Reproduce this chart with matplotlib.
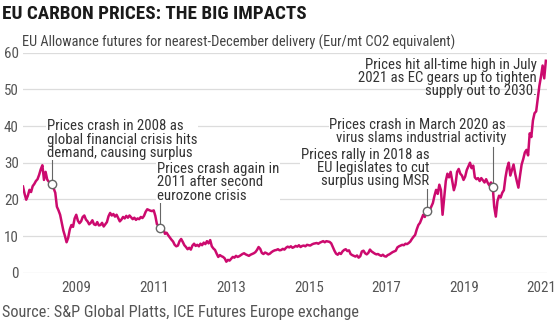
import numpy as np
import matplotlib
matplotlib.use("Agg")
import matplotlib.pyplot as plt

# EUA nearest-December futures, two readings per month (EUR/t CO2e)
price_2008 = [23.5, 21.5, 19.9, 21.0, 22.6, 22.0, 23.6, 24.2, 25.0, 25.5, 26.7, 28.2,
              29.3, 25.3, 27.5, 25.4, 24.8, 24.3, 24.6, 23.0, 21.8, 18.0, 17.0, 15.8]
price_2009 = [13.7, 11.5, 10.0, 8.3, 9.5, 11.8, 13.0, 12.5, 14.8, 15.8, 14.2, 13.5,
              14.0, 15.2, 15.6, 14.5, 14.0, 13.2, 13.6, 14.3, 13.2, 13.0, 13.8, 12.9]
price_2010 = [13.0, 13.6, 12.6, 13.2, 13.8, 15.4, 16.3, 15.6, 16.0, 15.3, 15.8, 14.9,
              14.0, 14.5, 15.2, 14.8, 15.5, 15.0, 15.6, 15.1, 14.6, 15.0, 14.4, 14.8]
price_2011 = [14.6, 15.2, 14.9, 15.5, 16.6, 17.3, 17.1, 16.9, 16.8, 17.0, 15.5, 13.2,
              12.9, 12.0, 11.5, 11.9, 10.6, 10.9, 10.2, 9.6, 9.0, 8.5, 7.6, 7.2]
price_2012 = [7.4, 8.6, 9.2, 8.4, 7.5, 7.0, 6.4, 6.8, 6.3, 7.4, 7.9, 7.3,
              7.6, 7.2, 7.9, 7.5, 8.2, 7.8, 8.6, 8.0, 8.9, 7.2, 6.6, 6.2]
price_2013 = [5.2, 4.3, 4.8, 4.5, 4.3, 3.9, 3.0, 3.5, 3.3, 3.8, 4.3, 4.1,
              4.6, 4.3, 4.5, 4.8, 5.1, 5.3, 5.0, 4.8, 4.6, 4.9, 5.1, 5.3]
price_2014 = [5.6, 6.2, 7.0, 6.5, 5.4, 5.1, 5.5, 5.3, 5.0, 5.2, 5.6, 5.9,
              6.1, 6.2, 6.4, 6.1, 6.2, 6.5, 6.3, 6.8, 7.1, 6.9, 7.2, 6.8]
price_2015 = [7.0, 7.3, 7.1, 7.5, 7.0, 7.3, 7.4, 7.2, 7.6, 7.5, 7.4, 7.7,
              7.9, 8.0, 8.1, 7.9, 8.2, 8.4, 8.6, 8.3, 8.6, 8.5, 8.4, 8.0]
price_2016 = [7.0, 6.0, 5.2, 4.9, 5.4, 5.1, 5.8, 6.2, 6.4, 5.9, 6.1, 5.1,
              4.8, 4.6, 4.4, 4.7, 4.1, 4.5, 5.8, 6.0, 5.3, 5.0, 5.4, 6.3]
price_2017 = [5.8, 5.5, 5.2, 5.0, 5.1, 4.8, 4.6, 4.9, 4.5, 4.4, 4.8, 5.0,
              5.3, 5.6, 5.8, 6.0, 6.9, 7.2, 7.4, 7.6, 7.5, 7.9, 7.8, 8.1]
price_2018 = [8.5, 9.2, 9.8, 10.3, 11.8, 13.0, 13.6, 14.7, 15.8, 15.2, 16.6, 17.2,
              17.0, 18.0, 19.0, 21.0, 22.6, 21.5, 24.0, 22.5, 15.8, 20.5, 25.0, 27.0]
price_2019 = [26.0, 27.5, 25.0, 22.5, 24.0, 27.5, 28.3, 27.0, 26.5, 25.3, 26.2, 28.0,
              29.0, 30.0, 28.5, 29.2, 26.0, 25.5, 25.8, 25.0, 25.8, 25.2, 24.6, 25.5]
price_2020 = [24.5, 23.8, 24.6, 24.0, 18.0, 15.3, 19.5, 21.0, 20.5, 21.8, 22.5, 26.0,
              28.5, 30.0, 26.5, 28.0, 29.5, 27.0, 25.0, 23.2, 26.5, 29.5, 31.0, 32.8]
price_2021 = [33.5, 32.0, 38.0, 37.0, 41.5, 43.5, 44.0, 47.5, 51.0, 53.5, 56.5, 53.0,
              57.8]

prices = np.array(price_2008 + price_2009 + price_2010 + price_2011 + price_2012 +
                  price_2013 + price_2014 + price_2015 + price_2016 + price_2017 +
                  price_2018 + price_2019 + price_2020 + price_2021)
dates = 2008 + np.arange(len(prices)) / 24.0

y_ticks = [0, 10, 20, 30, 40, 50, 60]
x_ticks = [2009, 2011, 2013, 2015, 2017, 2019, 2021]

# Event markers: date on the series, note text
event_dates = [2008.76, 2011.53, 2018.43, 2020.13]
event_notes = [
    "Prices crash in 2008 as\nglobal financial crisis hits\ndemand, causing surplus",
    "Prices crash again in\n2011 after second\neurozone crisis",
    "Prices rally in 2018 as\nEU legislates to cut\nsurplus using MSR",
    "Prices crash in March 2020 as\nvirus slams industrial activity",
]
peak_note = "Prices hit all-time high in July\n2021 as EC gears up to tighten\nsupply out to 2030."

FONT = ["Liberation Sans Narrow", "Roboto Condensed", "Roboto", "DejaVu Sans"]
LINE_COLOR = "#cc0a6e"
TEXT_DARK = "#333333"
TEXT_GREY = "#555555"
GRID = "#dcdcdc"

W, H = 560, 325
fig = plt.figure(figsize=(W / 100, H / 100), dpi=100)
ax = fig.add_axes([23 / W, 1 - 272.7 / H, 524 / W, 220 / H])

ax.plot(dates, prices, color=LINE_COLOR, lw=1.8, solid_joinstyle="round", zorder=3)

ax.set_xlim(2008.0, 2021.53)
ax.set_ylim(0, 60)
ax.set_yticks(y_ticks)
ax.set_xticks(x_ticks)
ax.set_xticklabels([str(t) for t in x_ticks], ha="left")
ax.grid(axis="y", color=GRID, lw=0.9, zorder=0)
ax.grid(axis="x", visible=False)
for s in ax.spines.values():
    s.set_visible(False)
ax.tick_params(axis="both", length=0, labelsize=10.8, labelcolor=TEXT_GREY)
ax.tick_params(axis="y", pad=3)
ax.tick_params(axis="x", pad=6)
for lab in ax.get_xticklabels() + ax.get_yticklabels():
    lab.set_family(FONT)

# (text x, text y, alignment, leader top) for each event note
note_layout = [
    (2008.62, 36.3, "left", 31.5),
    (2011.46, 24.6, "left", 20.0),
    (2018.49, 28.6, "right", 23.0),
    (2020.47, 38.4, "right", 34.2),
]
for d, note, (tx, ty, ha, top) in zip(event_dates, event_notes, note_layout):
    v = float(np.interp(d, dates, prices))
    ax.plot([d, d], [v, top], color="#666666", lw=0.8, zorder=4)
    ax.plot([d], [v], marker="o", ms=6, mfc="white", mec="#666666", mew=1.0, zorder=5)
    ax.text(tx, ty, note, ha=ha, va="center", fontsize=10.6, color=TEXT_DARK,
            family=FONT, linespacing=0.92, zorder=6,
            bbox=dict(boxstyle="square,pad=0.05", fc="white", ec="none"))

ax.text(2021.27, 53.0, peak_note, ha="right", va="center", fontsize=10.6,
        color=TEXT_DARK, family=FONT, linespacing=0.92, zorder=6)

fig.text(2 / W, 1 - 14 / H, "EU CARBON PRICES: THE BIG IMPACTS", ha="left", va="center",
         fontsize=13.8, fontweight="bold", color="#1a1a1a", family=FONT)
fig.text(22 / W, 1 - 42 / H,
         "EU Allowance futures for nearest-December delivery (Eur/mt CO2 equivalent)",
         ha="left", va="center", fontsize=10.4, color="#444444", family=FONT)
fig.text(2 / W, 1 - 313 / H, "Source: S&P Global Platts, ICE Futures Europe exchange",
         ha="left", va="center", fontsize=11.7, color=TEXT_GREY, family=FONT)

fig.savefig("out.png", dpi=100, facecolor="white")
